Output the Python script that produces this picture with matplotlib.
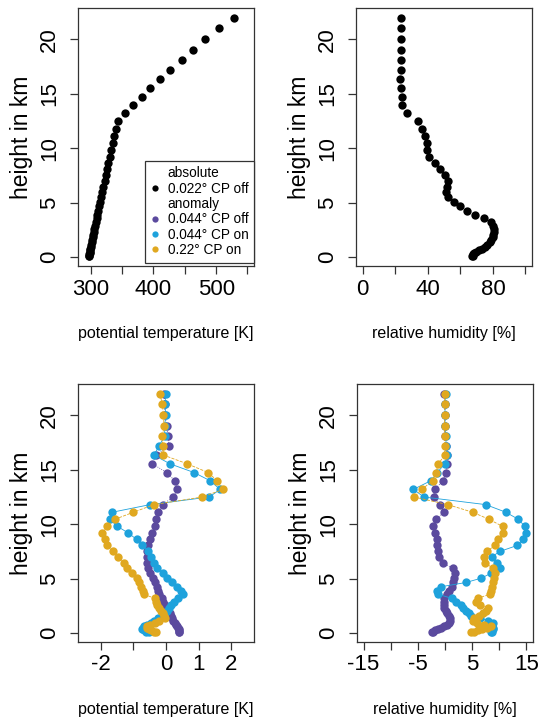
import matplotlib
matplotlib.use("Agg")
import matplotlib.pyplot as plt
from matplotlib.lines import Line2D

plt.rcParams['font.family'] = ['Liberation Sans', 'DejaVu Sans']

# model levels (km)
heights = [22.0, 21.0, 20.0, 19.05, 18.1, 17.2, 16.35, 15.55, 14.75, 14.0,
           13.2, 12.5, 11.8, 11.1, 10.45, 9.8, 9.2, 8.6, 8.05, 7.5,
           7.0, 6.45, 5.95, 5.5, 5.05, 4.65, 4.25, 3.9, 3.55, 3.2,
           2.9, 2.6, 2.32, 2.05, 1.8, 1.56, 1.34, 1.14, 0.95, 0.78,
           0.62, 0.48, 0.35, 0.24, 0.14, 0.06]

# absolute profiles, 0.022 deg CP off
theta_abs = [528, 505, 482, 463, 445, 427, 410, 395, 381, 367,
             355, 343.5, 340, 337, 335, 332.6, 330.4, 328.2, 326.1, 324.1,
             322.3, 320.2, 318.4, 316.7, 315, 313.5, 312, 310.7, 309.4, 308.1,
             307, 305.9, 304.8, 303.8, 302.9, 302.1, 301.3, 300.6, 300.0, 299.4,
             298.9, 298.4, 298.0, 297.7, 297.4, 297.2]
rh_abs = [23.6, 23.6, 23.6, 23.6, 23.6, 23.6, 23.0, 23.6, 24.3, 24.3,
          27.5, 33.9, 36.4, 38.6, 39.5, 39.5, 41.1, 44.2, 47.7, 50.8,
          52.5, 51.9, 51.4, 52.5, 55.9, 60.1, 64.2, 69.3, 74.4, 78.6,
          79.8, 80.6, 80.6, 80.3, 79.8, 79.0, 78.0, 76.6, 75.0, 73.2,
          71.4, 69.8, 68.6, 67.8, 67.3, 67.5]

# anomalies: potential temperature [K]
theta_off044 = [-0.05, -0.04, -0.03, 0.02, 0.06, 0.09, -0.30, -0.42, 0.02, 0.27,
                0.35, 0.22, -0.10, -0.24, -0.30, -0.35, -0.42, -0.48, -0.54, -0.57,
                -0.59, -0.58, -0.55, -0.48, -0.41, -0.33, -0.27, -0.24, -0.20, -0.13,
                -0.09, -0.04, 0.01, 0.06, 0.11, 0.15, 0.19, 0.23, 0.27, 0.31,
                0.35, 0.38, 0.40, 0.41, 0.41, 0.40]
theta_on044 = [-0.01, -0.03, -0.01, -0.04, -0.04, -0.21, -0.37, 0.12, 0.86, 1.35,
               1.66, 1.33, -0.49, -1.65, -1.73, -1.49, -1.16, -0.90, -0.73, -0.54,
               -0.46, -0.36, -0.27, -0.10, 0.03, 0.18, 0.33, 0.45, 0.52, 0.36,
               0.26, 0.16, 0.10, 0.04, -0.04, -0.12, -0.25, -0.36, -0.46, -0.58,
               -0.67, -0.72, -0.73, -0.68, -0.60, -0.52]
theta_on22 = [-0.19, -0.11, -0.08, -0.06, -0.11, -0.10, -0.08, 0.65, 1.29, 1.57,
              1.76, 1.11, -0.37, -1.00, -1.57, -1.82, -1.95, -1.87, -1.80, -1.62,
              -1.46, -1.30, -1.19, -1.05, -0.90, -0.83, -0.76, -0.70, -0.67, -0.35,
              -0.30, -0.27, -0.22, -0.15, -0.10, -0.07, -0.04, -0.20, -0.35, -0.48,
              -0.57, -0.58, -0.52, -0.45, -0.38, -0.32]

# anomalies: relative humidity [%]
rh_off044 = [-0.1, 0.0, 0.0, 0.0, 0.0, 0.1, 0.35, 0.4, 0.15, -0.35,
             -1.9, -2.1, -0.9, -0.15, -1.7, -2.2, -1.9, -1.5, -1.4, -1.2,
             -1.1, -0.3, 1.4, 1.8, 1.7, 1.5, 1.2, 0.8, 0.4, -0.1,
             -0.25, -0.25, -0.2, 0.1, 0.4, 0.7, 0.85, 0.9, 0.8, 0.4,
             -0.1, -0.7, -1.3, -1.8, -2.2, -2.4]
rh_on044 = [0.1, 0.0, 0.0, 0.0, 0.1, 0.25, 0.45, -0.05, -1.4, -2.6,
            -5.8, -3.9, 7.5, 11.2, 13.5, 14.7, 14.9, 14.4, 13.3, 10.1,
            8.6, 9.6, 10.2, 8.5, 6.7, 3.9, -0.8, -1.5, -1.2, 1.2,
            2.1, 3.0, 3.3, 3.9, 4.4, 4.8, 6.5, 8.0, 8.9, 8.6,
            8.7, 8.9, 8.8, 8.6, 8.6, 8.4]
rh_on22 = [-0.07, -0.07, -0.07, -0.07, -0.07, -0.07, -0.07, -1.2, -1.7, -2.2,
           -4.3, -5.7, 0.5, 5.1, 8.1, 10.6, 10.7, 9.8, 9.2, 7.7,
           7.1, 7.3, 8.9, 9.2, 9.1, 8.9, 8.7, 8.5, 8.2, 6.0,
           5.7, 6.5, 8.0, 7.6, 7.0, 6.2, 5.4, 5.1, 5.8, 7.2,
           8.5, 7.8, 6.9, 6.0, 5.3, 4.7]

col_abs = 'black'
col_off044 = '#5b4a9e'
col_on044 = '#1ea2dc'
col_on22 = '#e0a820'

W, H = 539, 721
fig = plt.figure(figsize=(W / 100, H / 100), dpi=100)


def make_axes(left_px, top_px, w_px=176, h_px=258):
    ax = fig.add_axes([left_px / W, 1 - (top_px + h_px) / H, w_px / W, h_px / H])
    for s in ax.spines.values():
        s.set_color('#333333')
        s.set_linewidth(0.9)
    ax.tick_params(direction='out', length=6, width=0.9, color='#333333',
                   labelsize=16, top=False, right=False)
    ax.tick_params(axis='x', pad=3)
    ax.tick_params(axis='y', labelrotation=90, pad=7)
    ax.set_ylim(-0.82, 22.88)
    ax.set_yticks([0, 5, 10, 15, 20])
    ax.set_yticklabels(['0', '5', '10', '15', '20'], va='center')
    ax.set_ylabel('height in km', fontsize=16.5)
    ax.yaxis.set_label_coords(-0.255, 0.5)
    return ax


def set_xaxis(ax, lim, ticks, labels, title):
    ax.set_xlim(*lim)
    ax.set_xticks(ticks)
    ax.set_xticklabels(labels)
    ax.set_xlabel(title, fontsize=11.5)
    ax.xaxis.set_label_coords(0.5, -0.232)


ms = 6.0
lw = 0.6

# top left: absolute potential temperature
ax1 = make_axes(78, 8)
ax1.plot(theta_abs, heights, 'o', color=col_abs, ms=ms, mew=0)
set_xaxis(ax1, (279.6, 560.4), [300, 350, 400, 450, 500, 550],
          ['300', '', '400', '', '500', ''], 'potential temperature [K]')

leg_colors = ['none', col_abs, 'none', col_off044, col_on044, col_on22]
leg_labels = ['absolute', '0.022° CP off', 'anomaly',
              '0.044° CP off', '0.044° CP on', '0.22° CP on']
handles = [Line2D([], [], ls='none', marker='o', ms=4.5, mew=0, color=c)
           for c in leg_colors]
leg = ax1.legend(handles, leg_labels, loc='lower right', bbox_to_anchor=(1.0, 0.012),
                 fontsize=9.8, frameon=True, fancybox=False, framealpha=1,
                 edgecolor='#333333', borderpad=0.42, labelspacing=0.1,
                 handlelength=0.7, handletextpad=0.55, borderaxespad=0)
leg.get_frame().set_linewidth(0.9)

# top right: absolute relative humidity
ax2 = make_axes(356, 8)
ax2.plot(rh_abs, heights, 'o', color=col_abs, ms=ms, mew=0)
set_xaxis(ax2, (-4, 104), [0, 20, 40, 60, 80, 100],
          ['0', '', '40', '', '80', ''], 'relative humidity [%]')

# bottom left: potential temperature anomaly
ax3 = make_axes(78, 384)
ax3.plot(theta_off044, heights, ':', color=col_off044, lw=lw, marker='o', ms=ms, mew=0)
ax3.plot(theta_on044, heights, '-', color=col_on044, lw=lw, marker='o', ms=ms, mew=0)
ax3.plot(theta_on22, heights, '--', color=col_on22, lw=lw, marker='o', ms=ms, mew=0)
set_xaxis(ax3, (-2.7, 2.7), [-2, -1, 0, 1, 2],
          ['-2', '', '0', '1', '2'], 'potential temperature [K]')

# bottom right: relative humidity anomaly
ax4 = make_axes(357, 384)
ax4.plot(rh_off044, heights, ':', color=col_off044, lw=lw, marker='o', ms=ms, mew=0)
ax4.plot(rh_on044, heights, '-', color=col_on044, lw=lw, marker='o', ms=ms, mew=0)
ax4.plot(rh_on22, heights, '--', color=col_on22, lw=lw, marker='o', ms=ms, mew=0)
set_xaxis(ax4, (-16.2, 16.2), [-15, -10, -5, 0, 5, 10, 15],
          ['-15', '', '-5', '', '5', '', '15'], 'relative humidity [%]')

fig.savefig('out.png', dpi=100)
